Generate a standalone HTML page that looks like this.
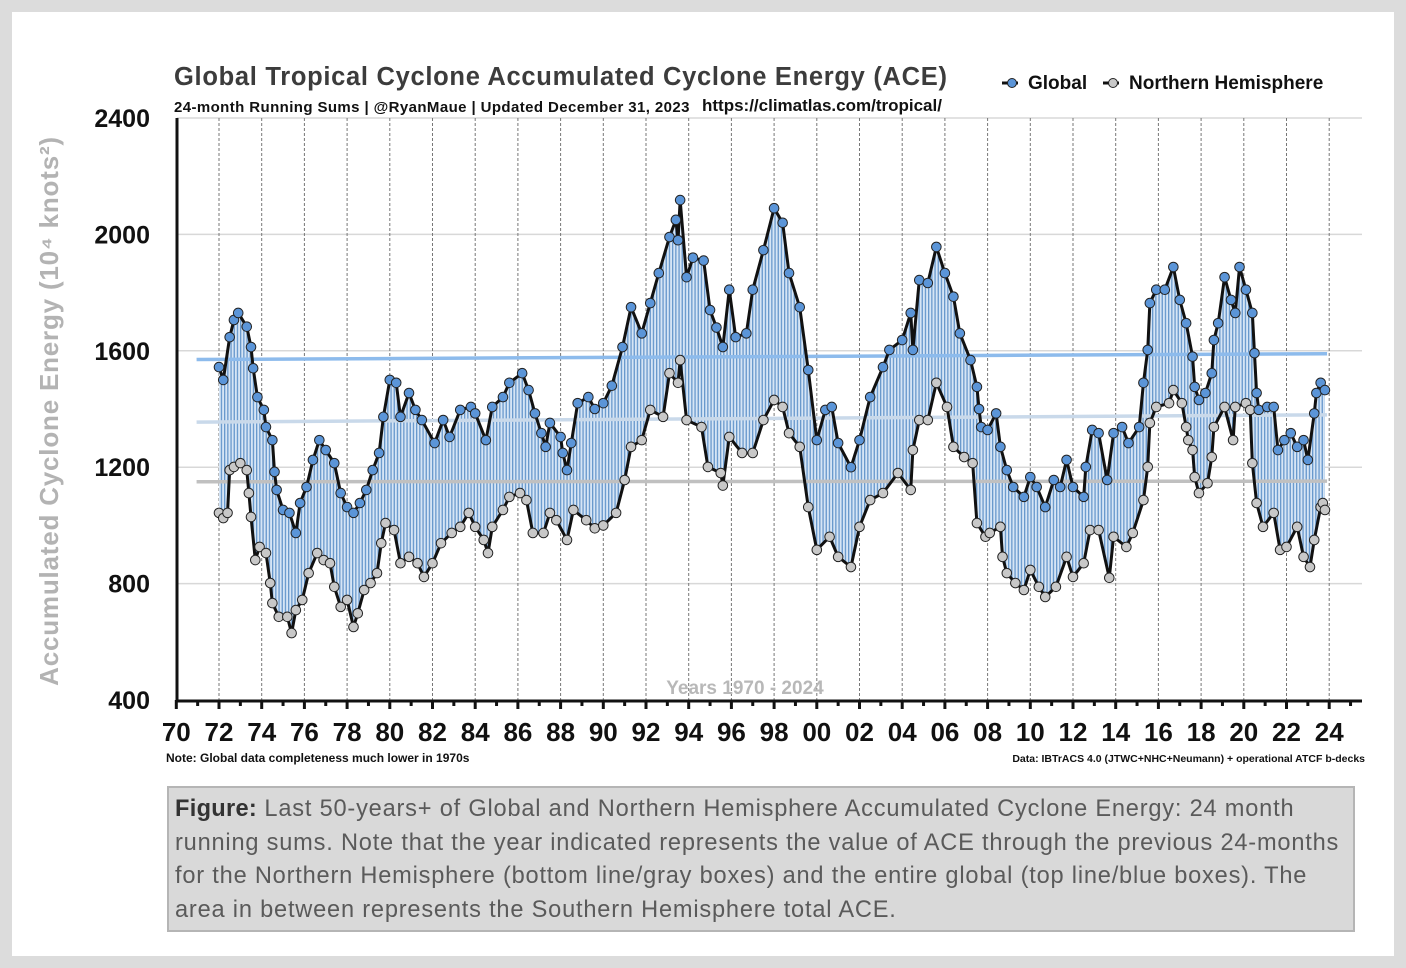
<!DOCTYPE html>
<html><head><meta charset="utf-8"><style>
body{margin:0;background:#dcdcdc;width:1406px;height:968px;overflow:hidden;font-family:"Liberation Sans",sans-serif}
#panel{position:absolute;left:12px;top:12px;width:1382px;height:944px;background:#fff}
#cap{position:absolute;left:167px;top:786px;width:1172px;height:130px;background:#d9d9d9;border:2px solid #b5b5b5;padding:5px 6px 7px 6px;font-size:23.6px;line-height:33.5px;letter-spacing:0.8px;color:#5a5a5a;box-sizing:content-box;white-space:nowrap;overflow:hidden}
#cap b{color:#333;letter-spacing:0.3px}
</style></head><body>
<div id="panel"></div>
<svg id="chart" width="1406" height="968" style="position:absolute;left:0;top:0">
<defs>
<pattern id="stripes" width="3.2" height="10" patternUnits="userSpaceOnUse">
<rect width="3.2" height="10" fill="#d6e5f5"/><rect width="1.3" height="10" fill="#6898cc"/>
</pattern>
</defs>
<g id="grid"></g><g id="marks"></g><g id="axes"></g>
<text x="174" y="85" font-size="25.5" font-weight="bold" fill="#3c3c3c" letter-spacing="0.7">Global Tropical Cyclone Accumulated Cyclone Energy (ACE)</text>
<text x="174" y="112" font-size="15" font-weight="bold" fill="#111" letter-spacing="0.4">24-month Running Sums | @RyanMaue | Updated December 31, 2023</text>
<text x="702" y="111" font-size="17" font-weight="bold" fill="#111">https://climatlas.com/tropical/</text>
<g><line x1="1002" y1="83" x2="1018" y2="83" stroke="#111" stroke-width="3"/><circle cx="1012" cy="83" r="4.5" fill="#5b95d8" stroke="#222"/><text x="1028" y="89" font-size="19" font-weight="bold" fill="#111">Global</text></g>
<g><line x1="1103" y1="83" x2="1119" y2="83" stroke="#111" stroke-width="3"/><circle cx="1113" cy="83" r="4.5" fill="#c8c8c8" stroke="#222"/><text x="1129" y="89" font-size="19" font-weight="bold" fill="#111">Northern Hemisphere</text></g>
<text transform="translate(58,411) rotate(-90)" text-anchor="middle" font-size="26" font-weight="bold" fill="#b3b3b3" letter-spacing="0.8">Accumulated Cyclone Energy (10⁴ knots²)</text>
<text x="745" y="694" text-anchor="middle" font-size="19" font-weight="bold" fill="#b8b8b8">Years 1970 - 2024</text>
<text x="166" y="762" font-size="12" font-weight="bold" fill="#111">Note:  Global data completeness much lower in 1970s</text>
<text x="1365" y="762" text-anchor="end" font-size="10.5" font-weight="bold" fill="#111">Data: IBTrACS 4.0 (JTWC+NHC+Neumann) + operational ATCF b-decks</text>
</svg>
<div id="cap"><b>Figure:</b> Last 50-years+ of Global and Northern Hemisphere Accumulated Cyclone Energy: 24 month<br>running sums. Note that the year indicated represents the value of ACE through the previous 24-months<br>for the Northern Hemisphere (bottom line/gray boxes) and the entire global (top line/blue boxes). The<br>area in between represents the Southern Hemisphere total ACE.</div>
<script>
const yTicks=[400,800,1200,1600,2000,2400];
const xTickLabels=["70","72","74","76","78","80","82","84","86","88","90","92","94","96","98","00","02","04","06","08","10","12","14","16","18","20","22","24"];
const globalYears=[1972.0,1972.2,1972.5,1972.7,1972.9,1973.3,1973.5,1973.6,1973.8,1974.1,1974.2,1974.5,1974.6,1974.7,1975.0,1975.3,1975.6,1975.8,1976.1,1976.4,1976.7,1977.0,1977.4,1977.7,1978.0,1978.3,1978.6,1978.9,1979.2,1979.5,1979.7,1980.0,1980.3,1980.5,1980.9,1981.2,1981.5,1982.1,1982.5,1982.8,1983.3,1983.8,1984.0,1984.5,1984.8,1985.3,1985.6,1986.2,1986.5,1986.8,1987.1,1987.3,1987.5,1988.0,1988.1,1988.3,1988.5,1988.8,1989.3,1989.6,1990.0,1990.4,1990.9,1991.3,1991.8,1992.2,1992.6,1993.1,1993.4,1993.5,1993.6,1993.9,1994.2,1994.7,1995.0,1995.3,1995.6,1995.9,1996.2,1996.7,1997.0,1997.5,1998.0,1998.4,1998.7,1999.2,1999.6,2000.0,2000.4,2000.7,2001.0,2001.6,2002.0,2002.5,2003.1,2003.4,2004.0,2004.4,2004.5,2004.8,2005.2,2005.6,2006.0,2006.4,2006.7,2007.2,2007.5,2007.6,2007.7,2008.0,2008.4,2008.6,2008.9,2009.2,2009.7,2010.0,2010.3,2010.7,2011.1,2011.4,2011.7,2012.0,2012.5,2012.6,2012.9,2013.2,2013.6,2013.9,2014.3,2014.6,2015.1,2015.3,2015.5,2015.6,2015.9,2016.3,2016.7,2017.0,2017.3,2017.6,2017.7,2017.9,2018.2,2018.5,2018.6,2018.8,2019.1,2019.4,2019.6,2019.8,2020.1,2020.4,2020.5,2020.6,2020.7,2021.1,2021.4,2021.6,2021.9,2022.2,2022.5,2022.8,2023.0,2023.3,2023.4,2023.6,2023.8];
const globalAce=[1544,1500,1647,1706,1730,1683,1613,1540,1441,1397,1338,1293,1184,1122,1053,1043,974,1077,1132,1225,1293,1259,1214,1111,1063,1043,1077,1122,1190,1249,1373,1500,1490,1373,1455,1397,1362,1283,1362,1304,1397,1407,1385,1293,1407,1441,1490,1523,1465,1385,1317,1270,1352,1304,1249,1190,1283,1420,1441,1400,1420,1480,1613,1750,1660,1764,1867,1991,2050,1980,2118,1853,1920,1910,1740,1680,1613,1810,1647,1660,1810,1946,2090,2040,1867,1750,1534,1293,1397,1407,1283,1200,1293,1441,1544,1603,1637,1730,1603,1843,1833,1957,1867,1786,1660,1568,1476,1400,1338,1328,1385,1270,1190,1132,1098,1166,1132,1063,1156,1132,1225,1132,1098,1201,1328,1317,1156,1317,1338,1283,1338,1490,1603,1764,1810,1810,1888,1775,1695,1580,1476,1431,1455,1523,1637,1695,1853,1775,1730,1888,1810,1730,1592,1455,1397,1407,1407,1259,1293,1317,1270,1293,1225,1385,1455,1490,1465];
const nhYears=[1972.0,1972.2,1972.4,1972.5,1972.7,1973.0,1973.3,1973.4,1973.5,1973.7,1973.9,1974.2,1974.4,1974.5,1974.8,1975.2,1975.4,1975.6,1975.9,1976.2,1976.6,1976.9,1977.2,1977.4,1977.7,1978.0,1978.3,1978.5,1978.8,1979.1,1979.4,1979.6,1979.8,1980.2,1980.5,1980.9,1981.3,1981.6,1982.0,1982.4,1982.9,1983.3,1983.7,1984.0,1984.4,1984.6,1984.8,1985.3,1985.6,1986.1,1986.4,1986.7,1987.2,1987.5,1987.8,1988.3,1988.6,1989.2,1989.6,1990.0,1990.6,1991.0,1991.3,1991.8,1992.2,1992.8,1993.1,1993.5,1993.6,1993.9,1994.6,1994.9,1995.5,1995.6,1995.9,1996.5,1997.0,1997.5,1998.0,1998.4,1998.7,1999.2,1999.6,2000.0,2000.6,2001.0,2001.6,2002.0,2002.5,2003.1,2003.8,2004.4,2004.5,2004.8,2005.2,2005.6,2006.1,2006.4,2006.9,2007.3,2007.5,2007.9,2008.1,2008.6,2008.7,2008.9,2009.3,2009.7,2010.0,2010.4,2010.7,2011.2,2011.7,2012.0,2012.5,2012.8,2013.2,2013.7,2013.9,2014.5,2014.8,2015.3,2015.5,2015.6,2015.9,2016.5,2016.7,2017.1,2017.3,2017.4,2017.6,2017.7,2017.9,2018.3,2018.5,2018.6,2019.1,2019.5,2019.6,2020.1,2020.3,2020.4,2020.6,2020.9,2021.4,2021.7,2022.0,2022.5,2022.8,2023.1,2023.3,2023.6,2023.7,2023.8];
const nhAce=[1043,1025,1043,1190,1201,1214,1190,1111,1029,881,926,905,802,733,686,686,630,709,744,836,905,881,870,789,720,744,651,698,778,802,836,939,1008,984,870,892,870,823,870,939,974,995,1043,995,950,905,995,1053,1098,1111,1087,974,974,1043,1018,950,1053,1018,990,1000,1043,1156,1270,1293,1397,1373,1523,1490,1568,1362,1338,1201,1180,1137,1304,1249,1249,1362,1431,1407,1317,1270,1063,916,961,892,857,995,1087,1111,1180,1122,1259,1362,1362,1490,1407,1270,1235,1214,1008,961,974,995,892,836,802,778,847,789,754,789,892,823,870,984,984,820,961,926,974,1087,1201,1352,1407,1420,1465,1420,1338,1293,1259,1166,1111,1145,1235,1338,1407,1293,1407,1420,1397,1214,1077,995,1043,916,926,995,892,857,950,1063,1077,1053];
const meanGlobal=[1570,1590];
const meanTotal=[1355,1380];
const meanNH=[1150,1152];
const NS='http://www.w3.org/2000/svg';
function X(yr){return 219+(yr-1972)*21.35;}
function Y(v){return 700-(v-400)*0.291;}
function mk(tag,attrs,parent){const e=document.createElementNS(NS,tag);for(const k in attrs)e.setAttribute(k,attrs[k]);parent.appendChild(e);return e;}
const grid=document.getElementById('grid'),marks=document.getElementById('marks'),axes=document.getElementById('axes');
yTicks.forEach(v=>{
  if(v>400){const l=mk('line',{x1:177,x2:1362,y1:Y(v),y2:Y(v),stroke:'#d8d8d8','stroke-width':1.5},grid);
  
  }
  const t=mk('text',{x:150,y:Y(v)+9,'text-anchor':'end','font-size':25,'font-weight':'bold',fill:'#111'},axes);
  t.textContent=v;
  
  
});
xTickLabels.forEach((lab,i)=>{
  const yr=1970+2*i,x=X(yr);
  if(i>0){const g=mk('line',{x1:x,x2:x,y1:118,y2:700,stroke:'#777','stroke-width':1,'stroke-dasharray':'3,2'},grid);
  
  }
  const t=mk('text',{x:x,y:741,'text-anchor':'middle','font-size':26,'font-weight':'bold',fill:'#111'},axes);
  t.textContent=lab;
  
  
});
for(let yr=1970;yr<=2025;yr++){mk('line',{x1:X(yr),x2:X(yr),y1:700,y2:yr%2==0?709:706,stroke:'#111','stroke-width':3},axes);}
const ax=mk('path',{d:`M177,118 L177,701 L1362,701`,fill:'none',stroke:'#111','stroke-width':3},axes);


const gp=globalYears.map((y,i)=>X(y)+','+Y(globalAce[i]));
const np=nhYears.map((y,i)=>X(y)+','+Y(nhAce[i])).reverse();
const area=mk('polygon',{points:gp.concat(np).join(' '),fill:'url(#stripes)'},marks);


function mean(arr,color,w,name){const l=mk('line',{x1:X(1970.95),x2:X(2023.9),y1:Y(arr[0]),y2:Y(arr[1]),stroke:color,'stroke-width':w},marks);

}
mean(meanGlobal,'#8dbbec',3.5,'global-mean-line');
mean(meanTotal,'#c9d9ea',3.5,'mid-mean-line');
mean(meanNH,'#c0c0c0',3.5,'nh-mean-line');
function series(ys,vs,fill,name){
  const p=mk('polyline',{points:ys.map((y,i)=>X(y)+','+Y(vs[i])).join(' '),fill:'none',stroke:'#111','stroke-width':3,'stroke-linejoin':'round'},marks);
  
  
  ys.forEach((y,i)=>{const c=mk('circle',{cx:X(y),cy:Y(vs[i]),r:4.8,fill:fill,stroke:'#222','stroke-width':1},marks);
  
  });
}
series(nhYears,nhAce,'#c8c8c8','nh');
series(globalYears,globalAce,'#5b95d8','global');
</script>
</body></html>
